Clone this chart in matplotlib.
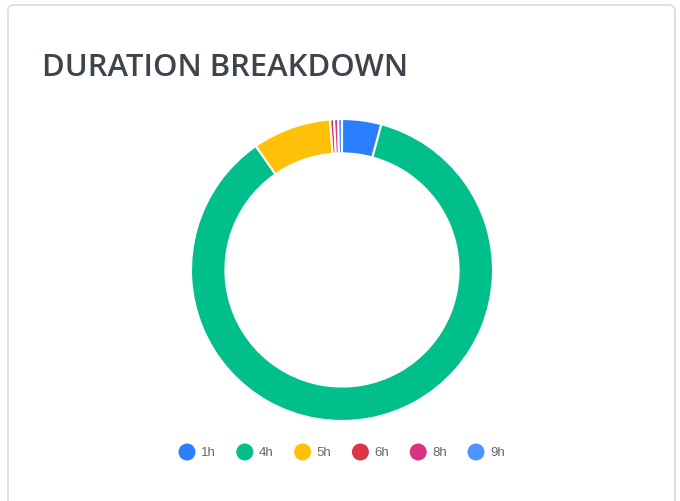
import matplotlib
matplotlib.use("Agg")
import matplotlib.pyplot as plt
from matplotlib.patches import FancyBboxPatch

labels = ["1h", "4h", "5h", "6h", "8h", "9h"]
values = [10, 205, 20, 1, 1, 1]
colors = ["#2a7fff", "#00bf8a", "#ffc107", "#dc3545", "#d63384", "#4e94ff"]
title = "DURATION BREAKDOWN"

W, H = 680, 502
fig = plt.figure(figsize=(W / 100, H / 100), dpi=100)
fig.patch.set_facecolor("white")

# card background
bg = fig.add_axes([0, 0, 1, 1])
bg.set_xlim(0, W)
bg.set_ylim(H, 0)
bg.axis("off")
card = FancyBboxPatch((8, 6), 667, 520, boxstyle="round,pad=0,rounding_size=6",
                      facecolor="white", edgecolor="#dddddd", linewidth=1.3)
bg.add_patch(card)
bg.text(42, 76, title, fontsize=22.3, fontfamily="Open Sans", fontweight="semibold",
        color="#3e444b", ha="left", va="baseline")

# legend (manual, Chart.js style)
lx0, ldx, ly = 187, 57.8, 453
for i, (lab, c) in enumerate(zip(labels, colors)):
    x = lx0 + i * ldx
    bg.scatter([x], [ly], s=150, color=c, edgecolors="none", zorder=3)
    bg.text(x + 14, ly, lab, fontsize=9.5, fontfamily="Liberation Sans",
            color="#666666", ha="left", va="center")

# donut
cx, cy, r = 342, 271, 151
ax = fig.add_axes([(cx - r) / W, (H - cy - r) / H, 2 * r / W, 2 * r / H])
ax.pie(values, colors=colors, startangle=90, counterclock=False, radius=1,
       wedgeprops=dict(width=0.228, edgecolor="white", linewidth=1.5))
ax.set_xlim(-1, 1)
ax.set_ylim(-1, 1)
ax.set_aspect("equal")

fig.savefig("out.png", dpi=100)
